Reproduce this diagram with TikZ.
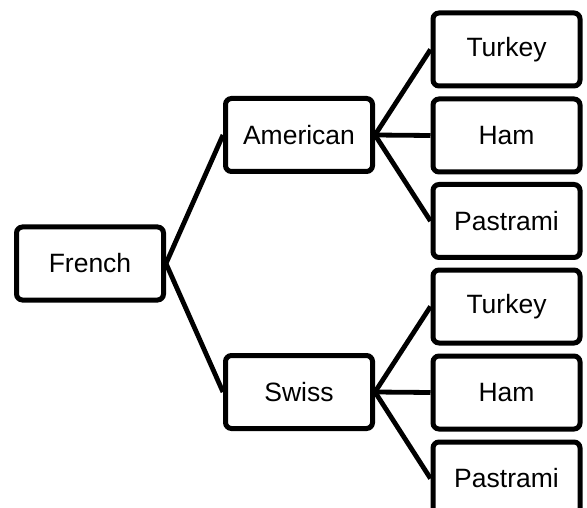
\documentclass[tikz,border=0pt]{standalone}
\usepackage{fontspec}
\setmainfont{Liberation Sans}
\begin{document}
\begin{tikzpicture}[x=1pt,y=-1pt,
  box/.style={draw=black,line width=5pt,rounded corners=6pt,fill=white,
    minimum width=147pt,minimum height=73pt,inner sep=0pt,
    font=\fontsize{26.5}{30}\selectfont},
  link/.style={line width=4.8pt}]
\useasboundingbox (0,0) rectangle (587,508);
\clip (0,0) rectangle (587,508);
\node[box] (fr) at (90,263.5) {French};
\node[box] (am) at (299,135) {American};
\node[box] (sw) at (299,392) {Swiss};
\node[box] (t1) at (506.5,49.5) {Turkey};
\node[box] (h1) at (506.5,135.5) {Ham};
\node[box] (p1) at (506.5,221) {Pastrami};
\node[box] (t2) at (506.5,306.5) {Turkey};
\node[box] (h2) at (506.5,392.5) {Ham};
\node[box] (p2) at (506.5,478.5) {Pastrami};
\draw[link] (fr.east) -- (am.west);
\draw[link] (fr.east) -- (sw.west);
\draw[link] (am.east) -- (t1.west);
\draw[link] (am.east) -- (h1.west);
\draw[link] (am.east) -- (p1.west);
\draw[link] (sw.east) -- (t2.west);
\draw[link] (sw.east) -- (h2.west);
\draw[link] (sw.east) -- (p2.west);
\end{tikzpicture}
\end{document}
